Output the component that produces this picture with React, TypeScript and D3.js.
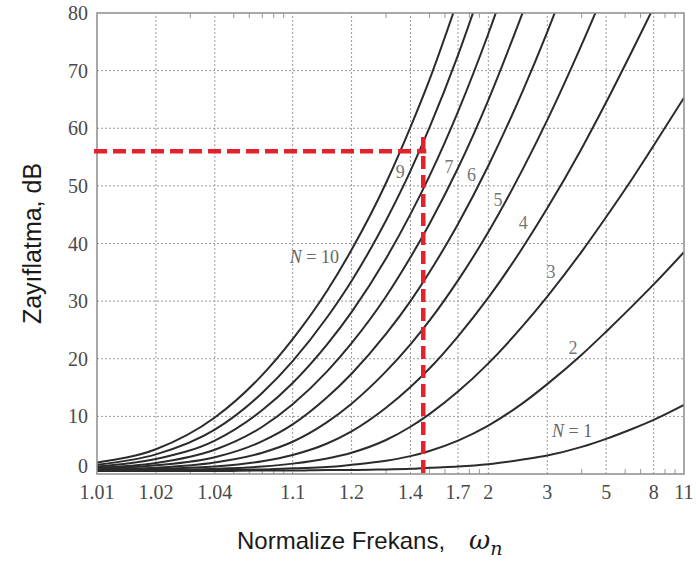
import React, { useRef, useEffect } from 'react';
import * as d3 from 'd3';

// normalized frequency points where the curves were read
const freqs = [1.01, 1.02, 1.04, 1.07, 1.1, 1.15, 1.2, 1.3, 1.4, 1.5, 1.7, 2, 2.5, 3, 4, 5, 6.5, 8, 11];

// attenuation (dB) for each filter order, read at freqs (stops once off the top)
const n1 = [0.5, 0.5, 0.5, 0.6, 0.6, 0.7, 0.7, 0.8, 0.9, 1.1, 1.3, 1.7, 2.5, 3.2, 4.7, 6.1, 7.9, 9.4, 12.0];
const n2 = [0.5, 0.6, 0.7, 0.8, 1.0, 1.2, 1.6, 2.3, 3.1, 4.0, 5.8, 8.4, 12.3, 15.6, 20.7, 24.7, 29.3, 32.9, 38.5];
const n3 = [0.6, 0.7, 0.9, 1.3, 1.8, 2.7, 3.7, 5.9, 8.2, 10.4, 14.3, 19.2, 25.7, 30.8, 38.6, 44.6, 51.5, 57.0, 65.3];
const n4 = [0.7, 0.9, 1.3, 2.2, 3.3, 5.3, 7.4, 11.5, 15.1, 18.3, 23.9, 30.6, 39.3, 46.1, 56.5, 64.5, 73.8, 81.0];
const n5 = [0.8, 1.1, 2.0, 3.7, 5.6, 9.0, 12.2, 17.8, 22.5, 26.6, 33.6, 42.0, 52.9, 61.4, 74.5, 84.4];
const n6 = [0.9, 1.5, 2.9, 5.7, 8.6, 13.3, 17.4, 24.3, 30.0, 35.0, 43.4, 53.5, 66.5, 76.7, 92.4];
const n7 = [1.1, 1.9, 4.2, 8.2, 12.1, 17.8, 22.7, 30.8, 37.6, 43.4, 53.1, 64.9, 80.1];
const n8 = [1.3, 2.6, 5.8, 11.1, 15.8, 22.5, 28.1, 37.4, 45.1, 51.7, 62.9, 76.4, 93.7];
const n9 = [1.6, 3.4, 7.7, 14.1, 19.6, 27.2, 33.5, 44.0, 52.6, 60.1, 72.7, 87.8];
const n10 = [2.0, 4.3, 9.8, 17.2, 23.4, 31.8, 38.9, 50.5, 60.2, 68.4, 82.4];

const curves = [n1, n2, n3, n4, n5, n6, n7, n8, n9, n10];

const xTicks = [1.01, 1.02, 1.04, 1.1, 1.2, 1.4, 1.7, 2, 3, 5, 8, 11];
const xMinor = [1.03, 1.05, 1.06, 1.07, 1.08, 1.09, 1.3, 1.5, 1.6, 1.8, 1.9, 4, 6, 7, 9, 10];
const yTicks = [0, 10, 20, 30, 40, 50, 60, 70, 80];

// curve labels: text, frequency, dB
const labels = [
  { t: '9', w: 1.355, v: 52.5 },
  { t: '7', w: 1.63, v: 53.3 },
  { t: '6', w: 1.82, v: 51.9 },
  { t: '5', w: 2.12, v: 47.6 },
  { t: '4', w: 2.51, v: 43.6 },
  { t: '3', w: 3.09, v: 35.1 },
  { t: '2', w: 3.71, v: 21.9 },
];
const nLabels = [{ t: '10', w: 1.129, v: 37.7 }, { t: '1', w: 3.68, v: 7.5 }];

// design point (red markers)
const markW = 1.465;
const markDb = 56;
const markTop = 58.5;

const App = () => {
  const ref = useRef(null);

  useEffect(() => {
    const W = 696, H = 562;
    const margin = { top: 13, right: 12, bottom: 88, left: 97 };

    d3.select(ref.current).selectAll('*').remove();
    const svg = d3.select(ref.current)
      .attr('width', W)
      .attr('height', H);

    const xs = d3.scaleLog().domain([0.01, 10]).range([margin.left, W - margin.right]);
    const x = (w) => xs(w - 1);
    const y = d3.scaleLinear().domain([0, 80]).range([H - margin.bottom, margin.top]);

    svg.append('rect').attr('width', W).attr('height', H).attr('fill', '#fff');

    svg.append('clipPath').attr('id', 'plot')
      .append('rect')
      .attr('x', margin.left).attr('y', margin.top)
      .attr('width', W - margin.left - margin.right)
      .attr('height', H - margin.top - margin.bottom);

    // grid
    const grid = svg.append('g')
      .attr('stroke', '#9a9a9a')
      .attr('stroke-width', 1)
      .attr('stroke-dasharray', '2,2');
    grid.selectAll('.gx').data(xTicks.slice(1, -1)).enter().append('line')
      .attr('x1', d => x(d)).attr('x2', d => x(d))
      .attr('y1', y(0)).attr('y2', y(80));
    grid.selectAll('.gy').data(yTicks.slice(1, -1)).enter().append('line')
      .attr('x1', x(1.01)).attr('x2', x(11))
      .attr('y1', d => y(d)).attr('y2', d => y(d));

    // minor ticks top/bottom
    const minor = svg.append('g').attr('stroke', '#999').attr('stroke-width', 1);
    minor.selectAll('.mb').data(xMinor).enter().append('line')
      .attr('x1', d => x(d)).attr('x2', d => x(d))
      .attr('y1', y(0)).attr('y2', y(0) - 5);
    minor.selectAll('.mt').data(xMinor).enter().append('line')
      .attr('x1', d => x(d)).attr('x2', d => x(d))
      .attr('y1', y(80)).attr('y2', y(80) + 5);

    // curves
    const line = d3.line()
      .x(d => x(d[0]))
      .y(d => y(d[1]))
      .curve(d3.curveMonotoneX);

    svg.append('g').attr('clip-path', 'url(#plot)')
      .selectAll('path').data(curves).enter().append('path')
      .attr('d', vals => line(vals.map((v, i) => [freqs[i], v])))
      .attr('fill', 'none')
      .attr('stroke', '#2b2b2b')
      .attr('stroke-width', 2);

    // frame
    svg.append('rect')
      .attr('x', margin.left).attr('y', margin.top)
      .attr('width', W - margin.left - margin.right)
      .attr('height', H - margin.top - margin.bottom)
      .attr('fill', 'none')
      .attr('stroke', '#8c8c8c')
      .attr('stroke-width', 1.5);

    // curve labels
    svg.selectAll('.clab').data(labels).enter().append('text')
      .attr('x', d => x(d.w)).attr('y', d => y(d.v))
      .attr('text-anchor', 'middle')
      .attr('dy', '0.35em')
      .style('font-family', 'Liberation Serif')
      .style('font-size', 18)
      .style('fill', '#777')
      .text(d => d.t);

    const nl = svg.selectAll('.nlab').data(nLabels).enter().append('text')
      .attr('x', d => x(d.w)).attr('y', d => y(d.v))
      .attr('text-anchor', 'middle')
      .attr('dy', '0.35em')
      .style('font-family', 'Liberation Serif')
      .style('font-size', 18)
      .style('fill', '#666');
    nl.append('tspan').style('font-style', 'italic').text('N');
    nl.append('tspan').text(d => ' = ' + d.t);

    // red design lines
    const red = svg.append('g')
      .attr('stroke', '#e3222b')
      .attr('stroke-width', 4.5)
      .attr('stroke-dasharray', '13,6')
      .attr('fill', 'none');
    red.append('line')
      .attr('x1', x(1.01) - 3).attr('x2', x(markW) + 3)
      .attr('y1', y(markDb)).attr('y2', y(markDb));
    red.append('line')
      .attr('x1', x(markW)).attr('x2', x(markW))
      .attr('y1', y(markTop)).attr('y2', y(0));

    // tick labels
    svg.selectAll('.xl').data(xTicks).enter().append('text')
      .attr('x', d => x(d)).attr('y', y(0) + 18)
      .attr('text-anchor', 'middle')
      .attr('dy', '0.35em')
      .style('font-family', 'Liberation Serif')
      .style('font-size', 20)
      .style('fill', '#4a4a4a')
      .text(d => d);

    svg.selectAll('.yl').data(yTicks).enter().append('text')
      .attr('x', margin.left - 9).attr('y', d => (d === 0 ? y(d) - 8 : y(d)))
      .attr('text-anchor', 'end')
      .attr('dy', '0.35em')
      .style('font-family', 'Liberation Serif')
      .style('font-size', 20)
      .style('fill', '#4a4a4a')
      .text(d => d);

    // axis titles
    svg.append('text')
      .attr('transform', `translate(41,${(margin.top + H - margin.bottom) / 2}) rotate(-90)`)
      .attr('text-anchor', 'middle')
      .style('font-family', 'Liberation Sans')
      .style('font-size', 25)
      .style('fill', '#1a1a1a')
      .text('Zayıflatma, dB');

    const xt = svg.append('text')
      .attr('x', 237).attr('y', 549)
      .style('font-family', 'Liberation Sans')
      .style('font-size', 24)
      .style('fill', '#1a1a1a');
    xt.append('tspan').text('Normalize Frekans,');
    xt.append('tspan').attr('dx', 24)
      .style('font-family', 'DejaVu Serif')
      .style('font-style', 'italic')
      .style('font-size', 26)
      .text('ω');
    xt.append('tspan').attr('dy', 6)
      .style('font-family', 'DejaVu Serif')
      .style('font-style', 'italic')
      .style('font-size', 19)
      .text('n');
  }, []);

  return <svg ref={ref} style={{ position: 'absolute', left: 0, top: 0 }} />;
};

export default App;
